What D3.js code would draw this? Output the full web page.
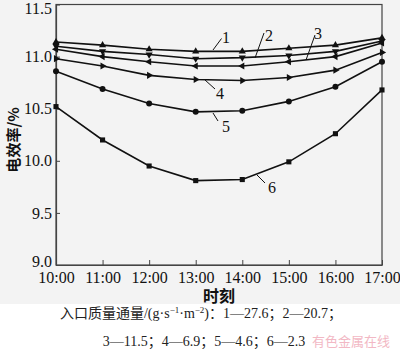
<!DOCTYPE html>
<html><head><meta charset="utf-8">
<script src="https://cdn.jsdelivr.net/npm/d3@7"></script>
<style>body{margin:0;background:#fff}svg{display:block}</style>
</head><body>
<svg id="c" width="400" height="353"></svg>
<script>
const times = ["10:00","11:00","12:00","13:00","14:00","15:00","16:00","17:00"];
const s1 = [11.14,11.11,11.07,11.05,11.05,11.08,11.11,11.18];
const s2 = [11.10,11.05,11.02,10.98,10.99,11.01,11.05,11.15];
const s3 = [11.07,11.00,10.95,10.91,10.91,10.95,11.00,11.13];
const s4 = [10.98,10.91,10.82,10.78,10.77,10.80,10.87,11.04];
const s5 = [10.86,10.69,10.55,10.47,10.48,10.57,10.71,10.95];
const s6 = [10.52,10.20,9.95,9.81,9.82,9.99,10.26,10.68];
const yTicks = [9.0,9.5,10.0,10.5,11.0,11.5];
const seriesNames = ["1","2","3","4","5","6"];
const markers = ["up","down","left","right","circle","square"];
const yTitle = "电效率/%";
const xTitle = "时刻";
const caption2 = "3—11.5；4—6.9；5—4.6；6—2.3";
const watermark = "有色金属在线";

const svg = d3.select("#c");
svg.append("rect").attr("x",0).attr("y",0).attr("width",400).attr("height",304).attr("fill","#f3f3f3");

const L=56, R=382, T=4.5, B=265;
const x = d3.scalePoint().domain(times).range([L,R]);
const y = d3.scaleLinear().domain([9.0,11.5]).range([B,T]);

svg.append("rect").attr("x",L).attr("y",T).attr("width",R-L).attr("height",B-T)
  .attr("fill","none").attr("stroke","#444").attr("stroke-width",1.2);

const serif = "'Liberation Serif','Times New Roman','Noto Sans CJK SC',serif";
const xAxis = svg.append("g").attr("transform",`translate(0,${B})`)
  .call(d3.axisBottom(x).tickSizeInner(-5).tickSizeOuter(0).tickPadding(7));
xAxis.select(".domain").attr("stroke","#444").attr("stroke-width",1.2);
xAxis.selectAll(".tick line").attr("stroke","#444");
xAxis.selectAll("text").attr("font-family",serif).attr("font-size",16).attr("fill","#111");

const yAxis = svg.append("g").attr("transform",`translate(${L},0)`)
  .call(d3.axisLeft(y).tickValues(yTicks).tickFormat(d3.format(".1f")).tickSizeInner(-4).tickSizeOuter(0).tickPadding(4));
yAxis.select(".domain").attr("stroke","#444").attr("stroke-width",1.2);
yAxis.selectAll(".tick line").attr("stroke","#444");
yAxis.selectAll("text").attr("font-family",serif).attr("font-size",16).attr("fill","#111");
yAxis.selectAll(".tick").filter(d=>d===11.5).select("text").attr("dy","0.55em");
yAxis.selectAll(".tick").filter(d=>d===9.0).select("text").attr("dy","0.1em");

const data = [s1,s2,s3,s4,s5,s6];
const line = d3.line().x((d,i)=>x(times[i])).y(d=>y(d));
const sym = {
  up: d3.symbol().type(d3.symbolTriangle).size(22),
  circle: d3.symbol().type(d3.symbolCircle).size(28),
  square: d3.symbol().type(d3.symbolSquare).size(26)
};
data.forEach((s,k)=>{
  svg.append("path").attr("d",line(s)).attr("fill","none").attr("stroke","#111").attr("stroke-width",1.6);
  const g = svg.append("g");
  s.forEach((v,i)=>{
    const m = markers[k];
    let p, rot=0;
    if(m==="up"){p=sym.up();}
    else if(m==="down"){p=sym.up();rot=180;}
    else if(m==="left"){p=sym.up();rot=-90;}
    else if(m==="right"){p=sym.up();rot=90;}
    else p=sym[m]();
    g.append("path").attr("d",p).attr("fill","#111")
     .attr("transform",`translate(${x(times[i])},${y(v)}) rotate(${rot})`);
  });
});

const labels = [
  {t:"1", lx:226, ly:37, a:[221.5,38.5], b:[213,50]},
  {t:"2", lx:269, ly:35, a:[264,33], b:[255,58]},
  {t:"3", lx:318, ly:33, a:[315,35], b:[306,60]},
  {t:"4", lx:220, ly:93, a:[215,89], b:[205,80]},
  {t:"5", lx:226, ly:126, a:[218,121], b:[213,113]},
  {t:"6", lx:272, ly:187, a:[265,183], b:[257,175]}
];
labels.forEach((l,i)=>{
  svg.append("line").attr("x1",l.a[0]).attr("y1",l.a[1]).attr("x2",l.b[0]).attr("y2",l.b[1])
    .attr("stroke","#111").attr("stroke-width",1);
  svg.append("text").attr("x",l.lx).attr("y",l.ly).attr("text-anchor","middle").attr("dominant-baseline","central")
    .attr("font-family",serif).attr("font-size",16).attr("fill","#111").text(seriesNames[i]);
});

svg.append("text").attr("x",219).attr("y",295).attr("text-anchor","middle").attr("dominant-baseline","central")
  .attr("font-family","'Noto Sans CJK SC',sans-serif").attr("font-weight","bold").attr("font-size",16).attr("fill","#111").text(xTitle);
svg.append("text").attr("transform","translate(12,140) rotate(-90)").attr("text-anchor","middle").attr("dominant-baseline","central")
  .attr("font-family","'Noto Sans CJK SC',sans-serif").attr("font-weight","bold").attr("font-size",15).attr("fill","#111").text(yTitle);

const capFont = "'Liberation Serif','Noto Sans CJK SC',serif";
const cap = svg.append("text").attr("x",201).attr("y",318).attr("text-anchor","middle")
  .attr("font-family",capFont).attr("font-size",14).attr("fill","#222");
cap.append("tspan").text("入口质量通量/(g·s");
cap.append("tspan").attr("dy",-5).attr("font-size",9).text("−1");
cap.append("tspan").attr("dy",5).text("·m");
cap.append("tspan").attr("dy",-5).attr("font-size",9).text("−2");
cap.append("tspan").attr("dy",5).text(")：1—27.6；2—20.7；");
svg.append("text").attr("x",204).attr("y",346).attr("text-anchor","middle")
  .attr("font-family",capFont).attr("font-size",14).attr("fill","#222").text(caption2);
svg.append("text").attr("x",312).attr("y",346)
  .attr("font-family","'Noto Sans CJK SC',sans-serif").attr("font-size",13).attr("fill","#f2b8c4").text(watermark);
</script>
</body></html>
